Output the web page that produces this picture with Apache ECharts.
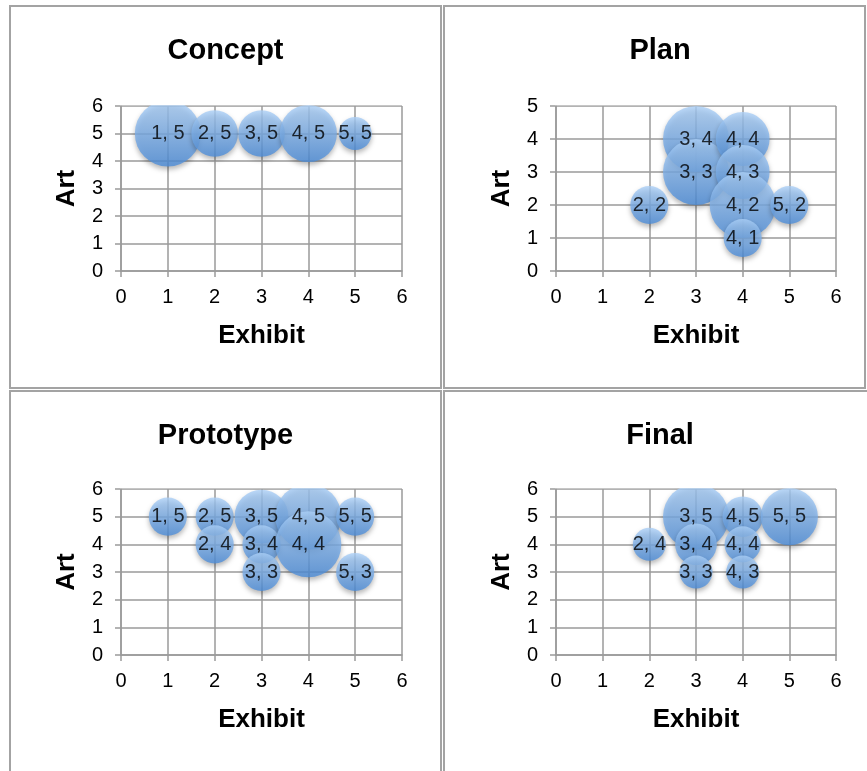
<!DOCTYPE html>
<html>
<head>
<meta charset="utf-8">
<script src="https://cdn.jsdelivr.net/npm/echarts@6/dist/echarts.min.js"></script>
<style>
  html, body { margin: 0; padding: 0; background: #ffffff; }
  #chart { width: 867px; height: 771px; }
</style>
</head>
<body>
<div id="chart"></div>
<script>
// Stage names (one bubble chart per stage)
const stageNames = ['Concept', 'Plan', 'Prototype', 'Final'];

// Concept: Exhibit / Art scores and how many projects share each pair
const conceptExhibit = [1, 2, 3, 4, 5];
const conceptArt     = [5, 5, 5, 5, 5];
const conceptCount   = [4, 2, 2, 3, 1];

// Plan
const planExhibit = [2, 3, 3, 4, 4, 4, 4, 5];
const planArt     = [2, 4, 3, 4, 3, 2, 1, 2];
const planCount   = [1, 3, 3, 2, 2, 3, 1, 1];

// Prototype
const prototypeExhibit = [1, 2, 2, 3, 3, 3, 4, 4, 5, 5];
const prototypeArt     = [5, 5, 4, 5, 4, 3, 5, 4, 5, 3];
const prototypeCount   = [1, 1, 1, 2, 1, 1, 3, 3, 1, 1];

// Final
const finalExhibit = [2, 3, 3, 3, 4, 4, 4, 5];
const finalArt     = [4, 5, 4, 3, 5, 4, 3, 5];
const finalCount   = [1, 4, 1.6, 1, 1.5, 1.2, 1, 3];

// Axis ranges and tick labels
const exhibitTicks = [0, 1, 2, 3, 4, 5, 6];
const artMax = [6, 5, 6, 6];
const xAxisTitle = 'Exhibit';
const yAxisTitle = 'Art';

const stageData = [
  [conceptExhibit, conceptArt, conceptCount],
  [planExhibit, planArt, planCount],
  [prototypeExhibit, prototypeArt, prototypeCount],
  [finalExhibit, finalArt, finalCount]
];

// ---- layout ----
const FONT = '"Liberation Sans", Arial, Helvetica, sans-serif';
const GRID_COLOR = '#9a9a9a';
const MAX_BUBBLE = 66; // diameter of the largest bubble in a panel
const grids = [
  { left: 121, top: 106, width: 281, height: 165 },
  { left: 556, top: 106, width: 280, height: 165 },
  { left: 121, top: 489, width: 281, height: 166 },
  { left: 556, top: 489, width: 280, height: 166 }
];
const titleCenters = [225.5, 660, 225.5, 660];
const titleTops = [36, 36, 421, 421];
const panels = [
  { x: 10, y: 6, w: 431, h: 382 },
  { x: 444, y: 6, w: 421, h: 382 },
  { x: 10, y: 391, w: 431, h: 420 },
  { x: 444, y: 391, w: 440, h: 420 }
];

const bubbleFill = {
  type: 'linear', x: 0, y: 0, x2: 0, y2: 1,
  colorStops: [
    { offset: 0, color: '#acd0f7' },
    { offset: 1, color: '#4b8cd9' }
  ]
};

const option = {
  backgroundColor: '#ffffff',
  animation: false,
  textStyle: { fontFamily: FONT },
  title: stageNames.map((name, i) => ({
    text: name,
    left: titleCenters[i],
    top: titleTops[i],
    textAlign: 'center',
    padding: 0,
    textStyle: { fontFamily: FONT, fontSize: 29, fontWeight: 'bold', color: '#000' }
  })),
  grid: grids.map(g => Object.assign({ containLabel: false }, g)),
  xAxis: grids.map((g, i) => ({
    gridIndex: i,
    type: 'value',
    min: exhibitTicks[0],
    max: exhibitTicks[exhibitTicks.length - 1],
    interval: 1,
    name: xAxisTitle,
    nameLocation: 'middle',
    nameGap: 52,
    nameTextStyle: { fontFamily: FONT, fontSize: 26, fontWeight: 'bold', color: '#000' },
    axisLine: { show: true, lineStyle: { color: GRID_COLOR, width: 1.5 } },
    axisTick: { show: true, length: 6, lineStyle: { color: GRID_COLOR, width: 1.5 } },
    axisLabel: { fontFamily: FONT, fontSize: 20, color: '#000', margin: 16 },
    splitLine: { show: true, lineStyle: { color: GRID_COLOR, width: 1.5 } }
  })),
  yAxis: grids.map((g, i) => ({
    gridIndex: i,
    type: 'value',
    min: 0,
    max: artMax[i],
    interval: 1,
    name: yAxisTitle,
    nameLocation: 'middle',
    nameGap: 41,
    nameTextStyle: { fontFamily: FONT, fontSize: 26, fontWeight: 'bold', color: '#000' },
    axisLine: { show: true, lineStyle: { color: GRID_COLOR, width: 1.5 } },
    axisTick: { show: true, length: 6, lineStyle: { color: GRID_COLOR, width: 1.5 } },
    axisLabel: { fontFamily: FONT, fontSize: 20, color: '#000', margin: 18 },
    splitLine: { show: true, lineStyle: { color: GRID_COLOR, width: 1.5 } }
  })),
  series: stageData.map(([xs, ys, counts], i) => {
    const maxCount = Math.max(...counts);
    return {
      type: 'scatter',
      name: stageNames[i],
      xAxisIndex: i,
      yAxisIndex: i,
      silent: true,
      clip: false,
      data: xs.map((x, k) => [x, ys[k], counts[k]]),
      symbol: 'circle',
      symbolSize: d => MAX_BUBBLE * Math.sqrt(d[2] / maxCount),
      itemStyle: {
        color: bubbleFill,
        shadowColor: 'rgba(0, 0, 0, 0.35)',
        shadowBlur: 5,
        shadowOffsetY: 3
      },
      label: {
        show: true,
        position: 'inside',
        formatter: p => p.value[0] + ', ' + p.value[1],
        fontFamily: FONT,
        fontSize: 20,
        color: '#000'
      }
    };
  }),
  graphic: [
    // panel frames
    ...panels.map(p => ({
      type: 'rect', z: 0, silent: true,
      shape: { x: p.x, y: p.y, width: p.w, height: p.h },
      style: { fill: 'none', stroke: '#a3a3a3', lineWidth: 2 }
    })),
    // bubbles are cut off at the top edge of each plot area
    ...grids.map(g => ({
      type: 'rect', z: 100, silent: true,
      shape: { x: g.left - 1, y: g.top - 16, width: g.width + 2, height: 15.2 },
      style: { fill: '#ffffff' }
    }))
  ]
};

const chart = echarts.init(document.getElementById('chart'), null, { renderer: 'canvas' });
chart.setOption(option);
</script>
</body>
</html>
